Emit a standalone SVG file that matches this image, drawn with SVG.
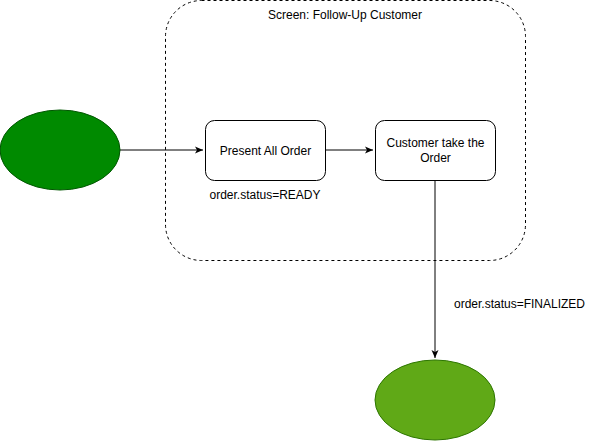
<svg xmlns="http://www.w3.org/2000/svg" width="596" height="442" viewBox="0 0 596 442">
<defs>
<style>
text{font-family:"Liberation Sans",Arial,sans-serif;font-size:12px;fill:#000;text-anchor:middle}
.box{fill:#fff;stroke:#000;stroke-width:1}
.edge{fill:none;stroke:#000;stroke-width:1}
</style>
<marker id="arr" markerWidth="10" markerHeight="10" refX="8" refY="5" orient="auto" markerUnits="userSpaceOnUse">
<path d="M0,1.5 L8,5 L0,8.5 L2,5 Z" fill="#000"/>
</marker>
</defs>
<rect width="596" height="442" fill="#fff"/>
<g id="container">
<rect x="165.5" y="0.5" width="360" height="260" rx="36" ry="36" fill="none" stroke="#000" stroke-dasharray="3,3"/>
<text x="345" y="19">Screen: Follow-Up Customer</text>
</g>
<g id="connectors">
<line class="edge" x1="120" y1="150" x2="203" y2="150" marker-end="url(#arr)"/>
<line class="edge" x1="325" y1="150" x2="373" y2="150" marker-end="url(#arr)"/>
<line class="edge" x1="435" y1="180" x2="435" y2="358" marker-end="url(#arr)"/>
<text x="519.5" y="308">order.status=FINALIZED</text>
</g>
<g id="start">
<ellipse cx="60" cy="150" rx="60" ry="40" fill="#008a00" stroke="#005700"/>
</g>
<g id="present">
<rect class="box" x="205.5" y="120.5" width="120" height="60" rx="9"/>
<text x="265.5" y="154.5">Present All Order</text>
</g>
<g id="ready-label">
<text x="265" y="199">order.status=READY</text>
</g>
<g id="customer">
<rect class="box" x="375.5" y="120.5" width="120" height="60" rx="9"/>
<text x="435.5" y="147">Customer take the</text>
<text x="435.5" y="162">Order</text>
</g>
<g id="end">
<ellipse cx="435" cy="400" rx="60" ry="40" fill="#60a917" stroke="#2d7600"/>
</g>
</svg>
